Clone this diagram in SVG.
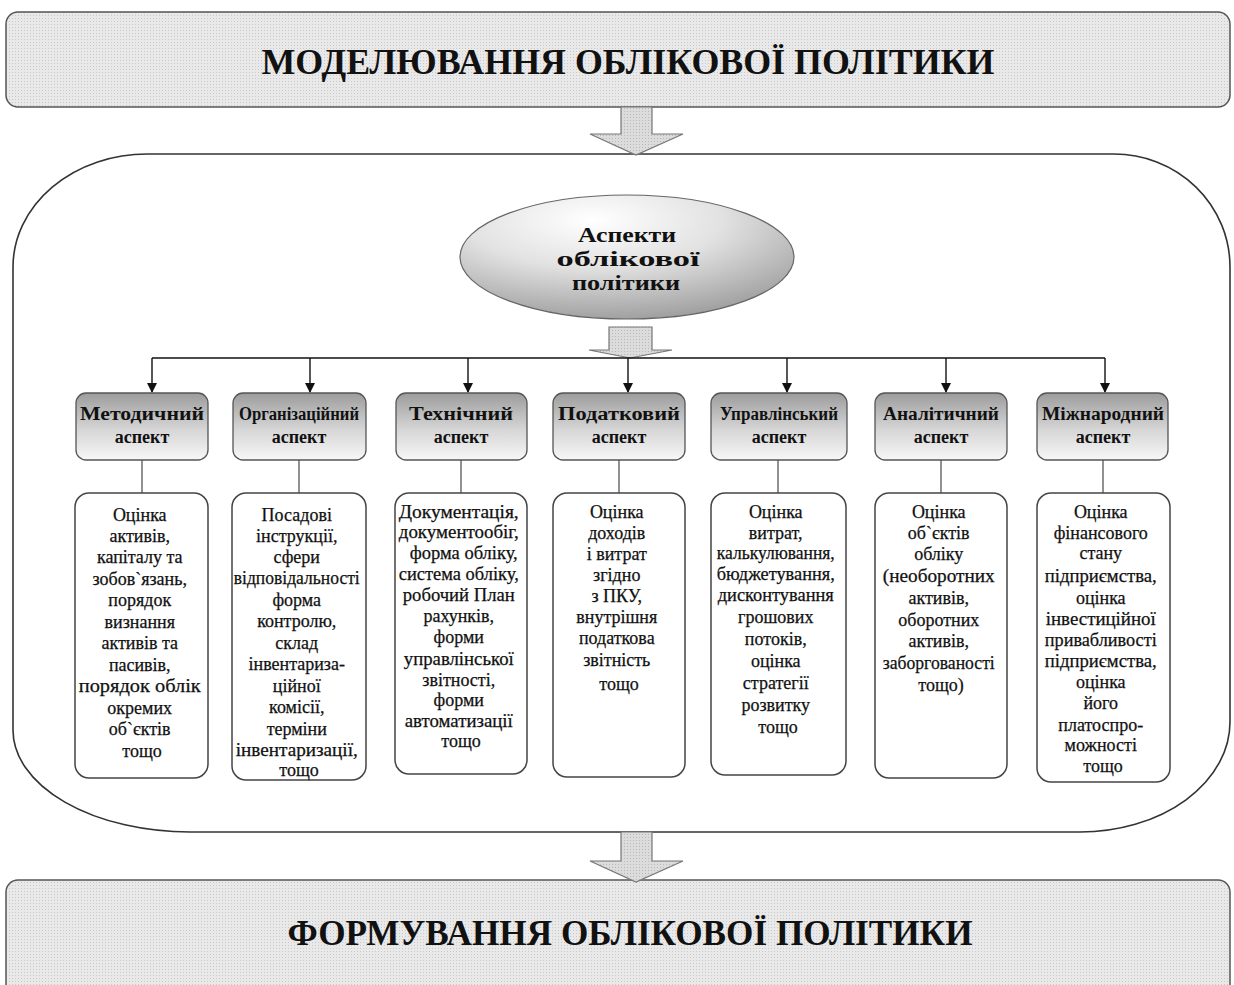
<svg xmlns="http://www.w3.org/2000/svg" width="1234" height="985" viewBox="0 0 1234 985">
<defs>
  <pattern id="dots" width="3" height="3" patternUnits="userSpaceOnUse">
    <rect width="3" height="3" fill="#e9e9e9"/>
    <rect width="1" height="1" fill="#c9c9c9"/>
  </pattern>
  <pattern id="dots2" width="3" height="3" patternUnits="userSpaceOnUse">
    <rect width="3" height="3" fill="#dcdcdc"/>
    <rect width="1" height="1" fill="#b8b8b8"/>
  </pattern>
  <linearGradient id="hdr" x1="0" y1="0" x2="0" y2="1">
    <stop offset="0" stop-color="#9c9c9c"/>
    <stop offset="0.55" stop-color="#d6d6d6"/>
    <stop offset="1" stop-color="#f7f7f7"/>
  </linearGradient>
  <radialGradient id="ell" cx="0.4" cy="0.2" r="0.85">
    <stop offset="0" stop-color="#ffffff"/>
    <stop offset="0.45" stop-color="#e2e2e2"/>
    <stop offset="1" stop-color="#9a9a9a"/>
  </radialGradient>
  <marker id="arr" viewBox="0 0 10 10" refX="9" refY="5" markerWidth="10" markerHeight="10" markerUnits="userSpaceOnUse" orient="auto">
    <path d="M0,0 L10,5 L0,10 Z" fill="#111"/>
  </marker>
  <style>
    .title{font-family:"Liberation Serif","Times New Roman",serif;font-weight:bold;font-size:35px;fill:#111;text-anchor:middle}
    .hdr{font-family:"Liberation Serif","Times New Roman",serif;font-weight:bold;font-size:18px;fill:#111;text-anchor:middle}
    .ell{font-family:"Liberation Serif","Times New Roman",serif;font-weight:bold;font-size:21px;fill:#111;text-anchor:middle}
    .txt{font-family:"Liberation Serif","Times New Roman",serif;font-size:18px;fill:#111;stroke:#111;stroke-width:0.25;text-anchor:middle}
    .band{fill:url(#dots);stroke:#555;stroke-width:1.5}
    .hbox{fill:url(#hdr);stroke:#555;stroke-width:1.3}
    .cbox{fill:#fff;stroke:#444;stroke-width:1.5}
    .block{fill:url(#dots2);stroke:#777;stroke-width:1.2}
    .con{stroke:#111;stroke-width:1.4;fill:none}
    .lnk{stroke:#555;stroke-width:1.3;fill:none}
  </style>
</defs>
<rect width="1234" height="985" fill="#fff"/>

<g id="top-box">
  <rect class="band" x="6" y="12" width="1224" height="95" rx="12"/>
  <text class="title" x="628" y="74" textLength="733" lengthAdjust="spacingAndGlyphs">МОДЕЛЮВАННЯ ОБЛІКОВОЇ ПОЛІТИКИ</text>
</g>

<g id="container">
  <path d="M147,154 L1114,154 A116,113 0 0 1 1230,267 L1230,722 A150,110 0 0 1 1080,832 L190,832 A177,102 0 0 1 13,730 L13,267 A134,113 0 0 1 147,154 Z" fill="none" stroke="#333" stroke-width="1.6"/>
</g>

<g id="bottom-box">
  <rect class="band" x="6" y="880" width="1224" height="120" rx="12"/>
  <text class="title" x="630" y="945" textLength="685" lengthAdjust="spacingAndGlyphs">ФОРМУВАННЯ ОБЛІКОВОЇ ПОЛІТИКИ</text>
</g>

<g id="aspects">
  <ellipse cx="627" cy="257" rx="167" ry="62" fill="url(#ell)" stroke="#666" stroke-width="1.2"/>
  <text class="ell" x="627" y="242" textLength="98" lengthAdjust="spacingAndGlyphs">Аспекти</text>
  <text class="ell" x="628" y="266" textLength="143" lengthAdjust="spacingAndGlyphs">облікової</text>
  <text class="ell" x="626" y="290" textLength="108" lengthAdjust="spacingAndGlyphs">політики</text>
</g>

<g id="connectors">
  <path class="block" d="M621,107 L652,107 L652,134 L683,134 L636,155 L590,134 L621,134 Z"/>
  <path class="block" d="M609,327 L652,327 L652,350 L672,350 L630,358 L589,350 L609,350 Z"/>
  <path class="block" d="M621,832 L652,832 L652,861 L683,861 L636,882 L590,861 L621,861 Z"/>
  <line class="con" x1="152" y1="358" x2="1105" y2="358"/>
  <line class="con" x1="152" y1="358" x2="152" y2="392" marker-end="url(#arr)"/>
  <line class="con" x1="310" y1="358" x2="310" y2="392" marker-end="url(#arr)"/>
  <line class="con" x1="468" y1="358" x2="468" y2="392" marker-end="url(#arr)"/>
  <line class="con" x1="628" y1="358" x2="628" y2="392" marker-end="url(#arr)"/>
  <line class="con" x1="787" y1="358" x2="787" y2="392" marker-end="url(#arr)"/>
  <line class="con" x1="946" y1="358" x2="946" y2="392" marker-end="url(#arr)"/>
  <line class="con" x1="1105" y1="358" x2="1105" y2="392" marker-end="url(#arr)"/>
  <line class="lnk" x1="142" y1="460" x2="142" y2="493"/>
  <line class="lnk" x1="299" y1="460" x2="299" y2="493"/>
  <line class="lnk" x1="461" y1="460" x2="461" y2="493"/>
  <line class="lnk" x1="619" y1="460" x2="619" y2="493"/>
  <line class="lnk" x1="778" y1="460" x2="778" y2="493"/>
  <line class="lnk" x1="941" y1="460" x2="941" y2="493"/>
  <line class="lnk" x1="1103" y1="460" x2="1103" y2="493"/>
</g>

<g id="methodical">
  <rect class="hbox" x="76" y="393" width="132" height="67" rx="10"/>
  <text class="hdr" x="142" y="420" textLength="124" lengthAdjust="spacingAndGlyphs">Методичний</text>
  <text class="hdr" x="142" y="443">аспект</text>
  <rect class="cbox" x="75" y="493" width="133" height="285" rx="14"/>
  <text class="txt">
    <tspan x="142" y="521">Оцінка</tspan>
    <tspan x="142" y="542">активів,</tspan>
    <tspan x="142" y="563">капіталу та</tspan>
    <tspan x="142" y="585">зобов`язань,</tspan>
    <tspan x="142" y="606">порядок</tspan>
    <tspan x="142" y="628">визнання</tspan>
    <tspan x="142" y="649">активів та</tspan>
    <tspan x="142" y="671">пасивів,</tspan>
    <tspan x="142" y="692" textLength="122" lengthAdjust="spacingAndGlyphs">порядок облік</tspan>
    <tspan x="142" y="714">окремих</tspan>
    <tspan x="142" y="735">об`єктів</tspan>
    <tspan x="142" y="757">тощо</tspan>
  </text>
</g>

<g id="organizational">
  <rect class="hbox" x="233" y="393" width="133" height="67" rx="10"/>
  <text class="hdr" x="299" y="420" textLength="120" lengthAdjust="spacingAndGlyphs">Організаційний</text>
  <text class="hdr" x="299" y="443">аспект</text>
  <rect class="cbox" x="232" y="493" width="134" height="287" rx="14"/>
  <text class="txt">
    <tspan x="299" y="521">Посадові</tspan>
    <tspan x="299" y="542">інструкції,</tspan>
    <tspan x="299" y="563">сфери</tspan>
    <tspan x="299" y="584" textLength="126" lengthAdjust="spacingAndGlyphs">відповідальності</tspan>
    <tspan x="299" y="606">форма</tspan>
    <tspan x="299" y="627">контролю,</tspan>
    <tspan x="299" y="649">склад</tspan>
    <tspan x="299" y="670">інвентариза-</tspan>
    <tspan x="299" y="692">ційної</tspan>
    <tspan x="299" y="713">комісії,</tspan>
    <tspan x="299" y="735">терміни</tspan>
    <tspan x="299" y="756" textLength="122" lengthAdjust="spacingAndGlyphs">інвентаризації,</tspan>
    <tspan x="299" y="776">тощо</tspan>
  </text>
</g>

<g id="technical">
  <rect class="hbox" x="396" y="393" width="131" height="67" rx="10"/>
  <text class="hdr" x="461" y="420" textLength="104" lengthAdjust="spacingAndGlyphs">Технічний</text>
  <text class="hdr" x="461" y="443">аспект</text>
  <rect class="cbox" x="395" y="493" width="132" height="281" rx="14"/>
  <text class="txt">
    <tspan x="461" y="518" textLength="120" lengthAdjust="spacingAndGlyphs">Документація,</tspan>
    <tspan x="461" y="538" textLength="120" lengthAdjust="spacingAndGlyphs">документообіг,</tspan>
    <tspan x="466" y="559" textLength="108" lengthAdjust="spacingAndGlyphs">форма обліку,</tspan>
    <tspan x="461" y="580" textLength="120" lengthAdjust="spacingAndGlyphs">система обліку,</tspan>
    <tspan x="461" y="601" textLength="112" lengthAdjust="spacingAndGlyphs">робочий План</tspan>
    <tspan x="461" y="622">рахунків,</tspan>
    <tspan x="461" y="643">форми</tspan>
    <tspan x="461" y="665" textLength="110" lengthAdjust="spacingAndGlyphs">управлінської</tspan>
    <tspan x="461" y="686">звітності,</tspan>
    <tspan x="461" y="706">форми</tspan>
    <tspan x="461" y="727" textLength="108" lengthAdjust="spacingAndGlyphs">автоматизації</tspan>
    <tspan x="461" y="747">тощо</tspan>
  </text>
</g>

<g id="tax">
  <rect class="hbox" x="553" y="393" width="132" height="67" rx="10"/>
  <text class="hdr" x="619" y="420" textLength="122" lengthAdjust="spacingAndGlyphs">Податковий</text>
  <text class="hdr" x="619" y="443">аспект</text>
  <rect class="cbox" x="553" y="493" width="132" height="284" rx="14"/>
  <text class="txt">
    <tspan x="619" y="518">Оцінка</tspan>
    <tspan x="619" y="539">доходів</tspan>
    <tspan x="619" y="560">і витрат</tspan>
    <tspan x="619" y="581">згідно</tspan>
    <tspan x="619" y="602">з ПКУ,</tspan>
    <tspan x="619" y="623">внутрішня</tspan>
    <tspan x="619" y="644">податкова</tspan>
    <tspan x="619" y="666">звітність</tspan>
    <tspan x="619" y="690">тощо</tspan>
  </text>
</g>

<g id="managerial">
  <rect class="hbox" x="711" y="393" width="136" height="67" rx="10"/>
  <text class="hdr" x="779" y="420" textLength="118" lengthAdjust="spacingAndGlyphs">Управлінський</text>
  <text class="hdr" x="779" y="443">аспект</text>
  <rect class="cbox" x="711" y="493" width="135" height="282" rx="14"/>
  <text class="txt">
    <tspan x="778" y="518">Оцінка</tspan>
    <tspan x="778" y="539">витрат,</tspan>
    <tspan x="778" y="559" textLength="118" lengthAdjust="spacingAndGlyphs">калькулювання,</tspan>
    <tspan x="778" y="580" textLength="118" lengthAdjust="spacingAndGlyphs">бюджетування,</tspan>
    <tspan x="778" y="601" textLength="116" lengthAdjust="spacingAndGlyphs">дисконтування</tspan>
    <tspan x="778" y="623">грошових</tspan>
    <tspan x="778" y="645">потоків,</tspan>
    <tspan x="778" y="667">оцінка</tspan>
    <tspan x="778" y="689">стратегії</tspan>
    <tspan x="778" y="711">розвитку</tspan>
    <tspan x="778" y="733">тощо</tspan>
  </text>
</g>

<g id="analytical">
  <rect class="hbox" x="875" y="393" width="132" height="67" rx="10"/>
  <text class="hdr" x="941" y="420" textLength="116" lengthAdjust="spacingAndGlyphs">Аналітичний</text>
  <text class="hdr" x="941" y="443">аспект</text>
  <rect class="cbox" x="875" y="493" width="132" height="285" rx="14"/>
  <text class="txt">
    <tspan x="941" y="518">Оцінка</tspan>
    <tspan x="941" y="539">об`єктів</tspan>
    <tspan x="941" y="560">обліку</tspan>
    <tspan x="941" y="582" textLength="112" lengthAdjust="spacingAndGlyphs">(необоротних</tspan>
    <tspan x="941" y="604">активів,</tspan>
    <tspan x="941" y="626">оборотних</tspan>
    <tspan x="941" y="647">активів,</tspan>
    <tspan x="941" y="669" textLength="112" lengthAdjust="spacingAndGlyphs">заборгованості</tspan>
    <tspan x="941" y="691">тощо)</tspan>
  </text>
</g>

<g id="international">
  <rect class="hbox" x="1037" y="393" width="131" height="67" rx="10"/>
  <text class="hdr" x="1103" y="420" textLength="122" lengthAdjust="spacingAndGlyphs">Міжнародний</text>
  <text class="hdr" x="1103" y="443">аспект</text>
  <rect class="cbox" x="1037" y="493" width="133" height="289" rx="14"/>
  <text class="txt">
    <tspan x="1103" y="518">Оцінка</tspan>
    <tspan x="1103" y="539">фінансового</tspan>
    <tspan x="1103" y="559">стану</tspan>
    <tspan x="1103" y="582" textLength="112" lengthAdjust="spacingAndGlyphs">підприємства,</tspan>
    <tspan x="1103" y="604">оцінка</tspan>
    <tspan x="1103" y="625" textLength="110" lengthAdjust="spacingAndGlyphs">інвестиційної</tspan>
    <tspan x="1103" y="646" textLength="112" lengthAdjust="spacingAndGlyphs">привабливості</tspan>
    <tspan x="1103" y="667" textLength="112" lengthAdjust="spacingAndGlyphs">підприємства,</tspan>
    <tspan x="1103" y="688">оцінка</tspan>
    <tspan x="1103" y="709">його</tspan>
    <tspan x="1103" y="731">платоспро-</tspan>
    <tspan x="1103" y="751">можності</tspan>
    <tspan x="1103" y="772">тощо</tspan>
  </text>
</g>
</svg>
